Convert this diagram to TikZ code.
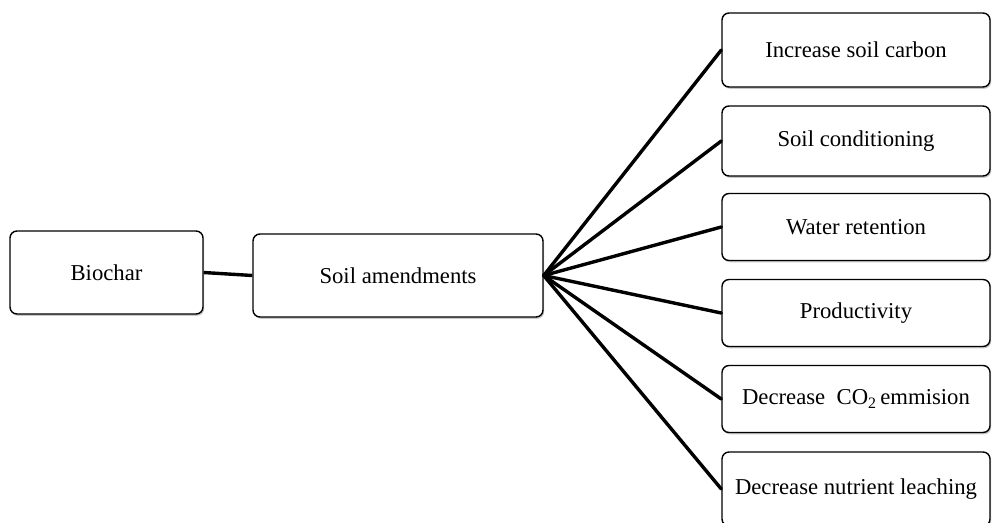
\documentclass[tikz,border=0pt]{standalone}
\usepackage{fontspec}
\setmainfont{Liberation Serif}
\usetikzlibrary{shadows}
\begin{document}
\begin{tikzpicture}[x=1pt,y=-1pt,
  box/.style={draw=black, line width=1.4pt, rounded corners=7pt, fill=white,
    drop shadow={shadow xshift=1.2pt, shadow yshift=-1.8pt, opacity=0.22, fill=black},
    inner sep=0pt, font=\fontsize{22.7}{27}\selectfont},
  conn/.style={draw=black, line width=3.4pt},
  outcome/.style={box, minimum width=268pt}]
\useasboundingbox (0,0) rectangle (992,522);
\clip (0,0) rectangle (992,522);
% source and hub
\node[box, minimum width=193pt, minimum height=83pt] (bio) at (106.5,272.5) {Biochar};
\node[box, minimum width=290pt, minimum height=83pt] (sa) at (398,275.5) {Soil amendments};
% outcomes
\node[outcome, minimum height=74pt] (o1) at (856,50) {Increase soil carbon};
\node[outcome, minimum height=70pt] (o2) at (856,141) {Soil conditioning};
\node[outcome, minimum height=67pt] (o3) at (856,227) {Water retention};
\node[outcome, minimum height=67pt] (o4) at (856,313) {Productivity};
\node[outcome, minimum height=67pt] (o5) at (856,399) {Decrease\ \ CO\textsubscript{2}\,emmision};
\node[outcome, minimum height=74pt] (o6) at (856,489) {Decrease nutrient leaching};
% connectors
\draw[conn] (bio.east) -- (sa.west);
\foreach \o in {o1,o2,o3,o4,o5,o6}
  \draw[conn, line cap=round] (sa.east) -- (\o.west);
\end{tikzpicture}
\end{document}
